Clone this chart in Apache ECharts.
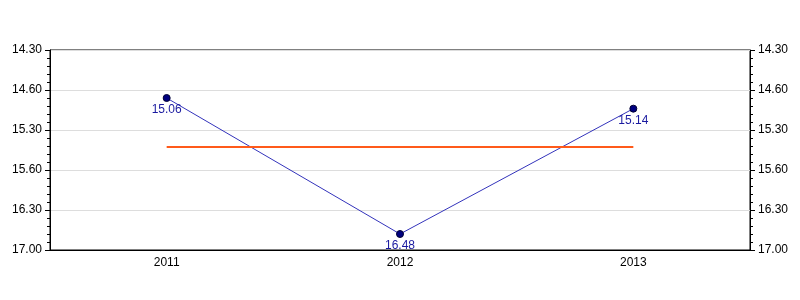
<!DOCTYPE html>
<html><head><meta charset="utf-8">
<script src="https://cdn.jsdelivr.net/npm/echarts@6/dist/echarts.min.js"></script>
<style>html,body{margin:0;padding:0;background:#fff}#c{width:800px;height:300px}</style>
</head><body><div id="c"></div>
<script>
const categories = ['2011', '2012', '2013'];
// values as printed (minutes.seconds)
const valueLabels = ['15.06', '16.48', '15.14'];
const tickLabels = ['14.30', '14.60', '15.30', '15.60', '16.30', '17.00'];
const axisMinSec = 870, axisMaxSec = 1020, axisStepSec = 30;

function toSec(s) { const p = s.split('.'); return (+p[0]) * 60 + (+p[1]); }
const values = valueLabels.map(toSec);
const avg = values.reduce((a, b) => a + b, 0) / values.length;

const font = { fontFamily: 'Liberation Sans, Arial, sans-serif', fontSize: 12, color: '#000' };
function yAx(pos, split) {
  return {
    type: 'value', position: pos, inverse: true,
    min: axisMinSec, max: axisMaxSec, interval: axisStepSec,
    axisLine: { show: true, lineStyle: { color: '#000', width: 1 } },
    axisTick: { show: true, length: 5, lineStyle: { color: '#000' } },
    minorTick: { show: true, splitNumber: 5, length: 3, lineStyle: { color: '#000' } },
    splitLine: { show: split, lineStyle: { color: '#dddddd', width: 1 } },
    axisLabel: Object.assign({}, font, { margin: 8,
      formatter: v => tickLabels[Math.round((v - axisMinSec) / axisStepSec)] || '' })
  };
}
const chart = echarts.init(document.getElementById('c'), null, { renderer: 'canvas' });
chart.setOption({
  animation: false,
  grid: { left: 50, right: 50, top: 50, bottom: 50, show: true, borderColor: '#000', borderWidth: 1, backgroundColor: 'transparent' },
  xAxis: {
    type: 'category', data: categories, boundaryGap: true,
    axisLine: { lineStyle: { color: '#000' } },
    axisTick: { alignWithLabel: true, length: 5, lineStyle: { color: '#000' } },
    axisLabel: Object.assign({}, font, { margin: 7 }),
    splitLine: { show: false }
  },
  yAxis: [yAx('left', true), yAx('right', false)],
  series: [{
    type: 'line', data: values, yAxisIndex: 0,
    lineStyle: { color: '#3333bb', width: 1 },
    itemStyle: { color: '#000080', borderColor: '#000033', borderWidth: 1 },
    symbol: 'circle', symbolSize: 7, showAllSymbol: true,
    label: { show: true, position: 'bottom', distance: 2, fontFamily: 'Liberation Sans, Arial, sans-serif', fontSize: 12, color: '#1a1aa0',
      formatter: p => valueLabels[p.dataIndex] },
    markLine: {
      silent: true, symbol: 'none', label: { show: false },
      lineStyle: { color: '#ff5a1a', width: 2, type: 'solid' },
      data: [[{ coord: [0, avg] }, { coord: [categories.length - 1, avg] }]]
    },
    z: 3
  }]
});
</script></body></html>
